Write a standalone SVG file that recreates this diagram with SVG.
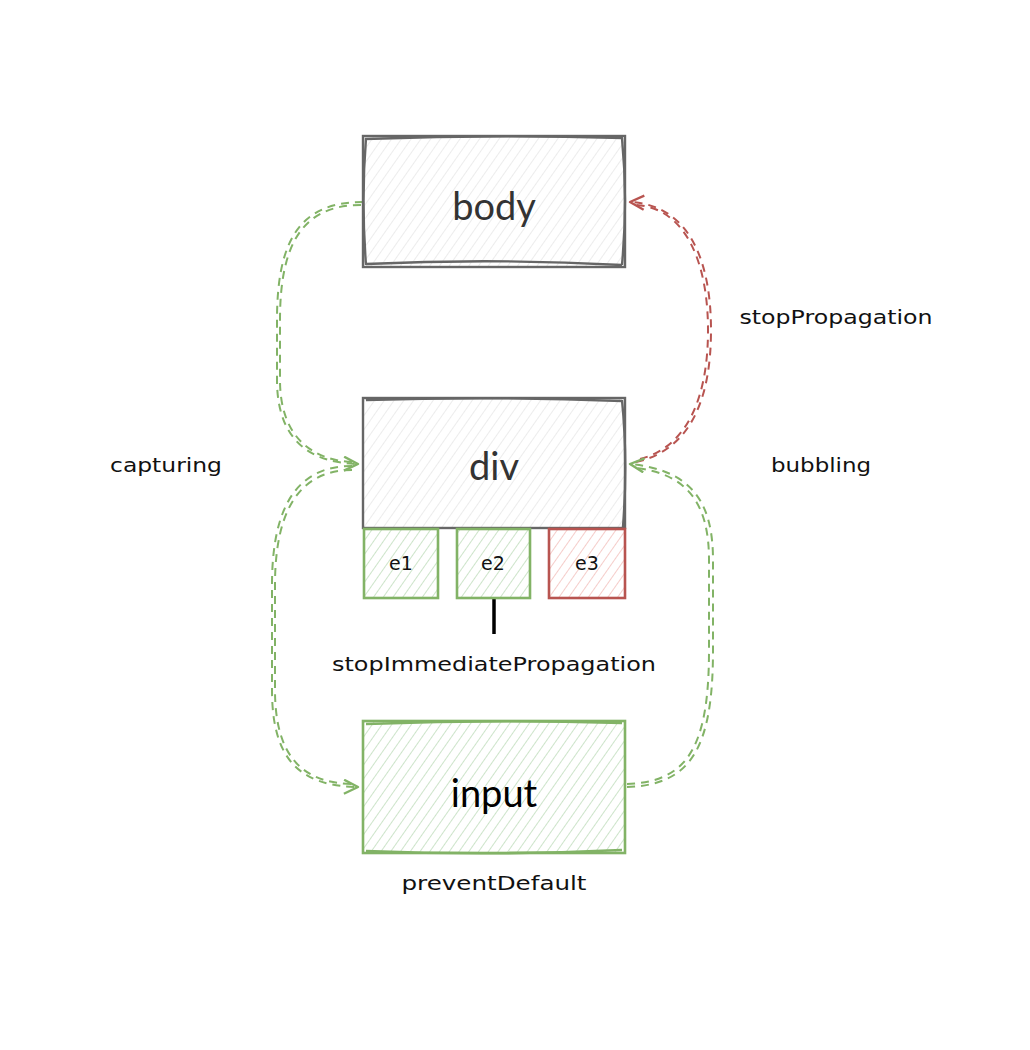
<svg xmlns="http://www.w3.org/2000/svg" width="1030" height="1050" viewBox="0 0 1030 1050">
<defs>
<style>
text{font-family:"Lato","Liberation Sans",sans-serif;text-anchor:middle;dominant-baseline:central}
.big{font-size:38px;fill:#333}
.lbl{font-family:"DejaVu Sans",sans-serif;font-size:19px;fill:#111}
.sm{font-family:"DejaVu Sans",sans-serif;font-size:20px;fill:#111}
.gray{stroke:#666;stroke-width:2.4}
.green{stroke:#82b366;stroke-width:2.6}
.red{stroke:#b85450;stroke-width:2.6}
.dg{fill:none;stroke:#82b366;stroke-width:2;stroke-dasharray:8 6}
.dr{fill:none;stroke:#b85450;stroke-width:2;stroke-dasharray:8 6}
</style>
<pattern id="hg" patternUnits="userSpaceOnUse" width="8" height="8" patternTransform="rotate(35)"><rect width="8" height="8" fill="#fff"/><line x1="0" y1="0" x2="0" y2="8" stroke="#e4e4e4" stroke-width="1.4"/></pattern>
<pattern id="hgr" patternUnits="userSpaceOnUse" width="8" height="8" patternTransform="rotate(35)"><rect width="8" height="8" fill="#fff"/><line x1="0" y1="0" x2="0" y2="8" stroke="#bcdcb8" stroke-width="1.5"/></pattern>
<pattern id="hr" patternUnits="userSpaceOnUse" width="8" height="8" patternTransform="rotate(35)"><rect width="8" height="8" fill="#fff"/><line x1="0" y1="0" x2="0" y2="8" stroke="#f2bcb9" stroke-width="1.5"/></pattern>
<marker id="ag" markerUnits="userSpaceOnUse" markerWidth="20" markerHeight="20" refX="15" refY="8" orient="auto"><path d="M1,1 L15,8 L1,15" fill="none" stroke="#82b366" stroke-width="2.4" stroke-linejoin="round"/></marker>
<marker id="ar" markerUnits="userSpaceOnUse" markerWidth="20" markerHeight="20" refX="15" refY="8" orient="auto"><path d="M1,1 L15,8 L1,15" fill="none" stroke="#b85450" stroke-width="2.4" stroke-linejoin="round"/></marker>
</defs>
<rect width="1030" height="1050" fill="#fff"/>
<g id="connectors">
<path class="dg" d="M363 202 C300 202 277 240 277 320 L277 380 C277 440 310 463 358 464" marker-end="url(#ag)"/>
<path class="dg" d="M361 205 C303 205 280 243 280 320 L280 380 C280 437 312 460 352 462"/>
<path class="dg" d="M352 466 C298 466 272 505 272 585 L272 690 C272 760 300 786 358 787" marker-end="url(#ag)"/>
<path class="dg" d="M352 470 C301 470 275 508 275 585 L275 690 C275 757 303 783 352 784"/>
<path class="dr" d="M636 462 C690 450 711 400 711 330 C711 262 690 205 630 202" marker-end="url(#ar)"/>
<path class="dr" d="M640 459 C687 447 708 398 708 330 C708 265 687 208 636 205"/>
<path class="dg" d="M627 787 C690 785 713 750 713 650 L713 560 C713 500 690 470 630 464" marker-end="url(#ag)"/>
<path class="dg" d="M627 784 C687 782 709 748 709 650 L709 560 C709 503 687 474 636 468"/>
<line x1="494" y1="598" x2="494" y2="634" stroke="#000" stroke-width="3.5"/>
</g>
<g id="body">
<rect x="363" y="136" width="262" height="131" fill="url(#hg)" class="gray"/>
<path d="M365 139 Q494 134 623 138 M366 264 Q494 258 622 265 M366 138 Q361 200 366 265 M622 138 Q628 200 622 265" fill="none" class="gray" stroke-width="1.2"/>
<text x="494" y="205" class="big">body</text>
</g>
<g id="div">
<rect x="363" y="398" width="262" height="130" fill="url(#hg)" class="gray"/>
<path d="M366 400 Q494 396 622 401 M622 400 Q628 460 623 527" fill="none" class="gray" stroke-width="1.2"/>
<text x="494" y="465" class="big">div</text>
</g>
<g id="e1">
<rect x="364" y="529" width="74" height="69" fill="url(#hgr)" class="green"/>
<text x="401" y="563" class="lbl">e1</text>
</g>
<g id="e2">
<rect x="457" y="529" width="73" height="69" fill="url(#hgr)" class="green"/>
<text x="493" y="563" class="lbl">e2</text>
</g>
<g id="e3">
<rect x="549" y="529" width="76" height="69" fill="url(#hr)" class="red"/>
<text x="587" y="563" class="lbl">e3</text>
</g>
<g id="input">
<rect x="363" y="721" width="262" height="132" fill="url(#hgr)" class="green"/>
<path d="M366 724 Q494 719 622 723 M366 851 Q494 856 622 850" fill="none" class="green" stroke-width="1.2"/>
<text x="494" y="792" class="big" style="fill:#000">input</text>
</g>
<g id="labels">
<text x="494" y="664" class="sm" textLength="324" lengthAdjust="spacingAndGlyphs">stopImmediatePropagation</text>
<text x="494" y="883" class="sm" textLength="185" lengthAdjust="spacingAndGlyphs">preventDefault</text>
<text x="166" y="465" class="sm" textLength="112" lengthAdjust="spacingAndGlyphs">capturing</text>
<text x="821" y="465" class="sm" textLength="100" lengthAdjust="spacingAndGlyphs">bubbling</text>
<text x="836" y="317" class="sm" textLength="193" lengthAdjust="spacingAndGlyphs">stopPropagation</text>
</g>
</svg>
